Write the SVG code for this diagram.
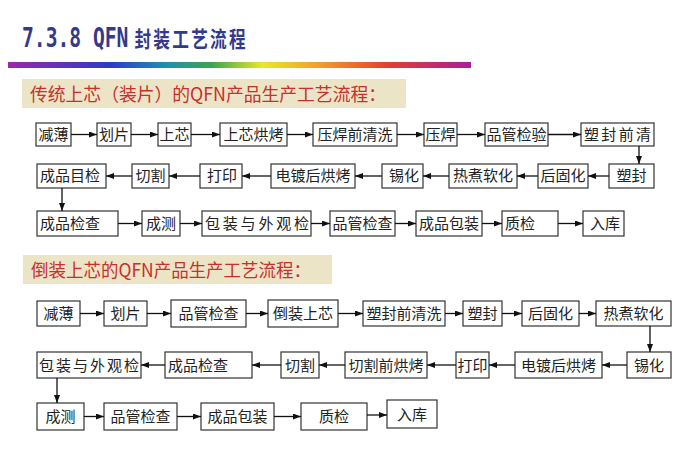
<svg xmlns="http://www.w3.org/2000/svg" width="679" height="459" viewBox="0 0 679 459">
<defs>
<linearGradient id="rainbow" x1="0" y1="0" x2="1" y2="0">
<stop offset="0" stop-color="#9a2aa6"/>
<stop offset="0.22" stop-color="#2b3cc4"/>
<stop offset="0.34" stop-color="#1f8fb0"/>
<stop offset="0.44" stop-color="#3aa64a"/>
<stop offset="0.55" stop-color="#e8e82a"/>
<stop offset="0.68" stop-color="#f09a2a"/>
<stop offset="0.82" stop-color="#e0402e"/>
<stop offset="1" stop-color="#a8209a"/>
</linearGradient>
<marker id="ah" viewBox="0 0 8 6" refX="8" refY="3" markerWidth="8" markerHeight="6" markerUnits="userSpaceOnUse" orient="auto">
<path d="M0,0 L8,3 L0,6 z" fill="#111"/>
</marker>
</defs>
<style>
.box{fill:#fff;stroke:#333;stroke-width:1.2}
.t{font-family:"Noto Sans CJK SC","Noto Sans",sans-serif;font-size:15px;fill:#222;text-anchor:middle}
.ts{font-family:"Noto Sans CJK SC","Noto Sans",sans-serif;font-size:15px;fill:#222;text-anchor:start}
.lbl{fill:#ece4c6}
.lt{font-family:"Noto Sans CJK SC","Liberation Serif",sans-serif;font-size:18px;fill:#c8302c}
.c{stroke:#111;stroke-width:1.3;fill:none;marker-end:url(#ah)}
</style>
<rect width="679" height="459" fill="#fff"/>
<g id="title">
<text transform="translate(22,47) scale(0.756,1)" x="0" y="0" fill="#34398a" font-weight="bold"><tspan font-family="DejaVu Sans Mono,monospace" font-size="26">7.3.8 QFN</tspan><tspan dx="8" font-family="Noto Sans CJK SC,sans-serif" font-size="22" letter-spacing="3">封装工艺流程</tspan></text>
</g>
<rect x="8" y="62" width="463" height="6" fill="url(#rainbow)"/>
<g id="label1">
<rect class="lbl" x="22" y="79" width="384" height="29"/>
<text class="lt" x="30" y="101" textLength="356" lengthAdjust="spacingAndGlyphs">传统上芯（装片）的QFN产品生产工艺流程：</text>
</g>
<g id="label2">
<rect class="lbl" x="23" y="255" width="309" height="29"/>
<text class="lt" x="31" y="277" textLength="280" lengthAdjust="spacingAndGlyphs">倒装上芯的QFN产品生产工艺流程：</text>
</g>
<g id="n1"><rect class="box" x="36" y="123" width="35" height="23"/><text class="t" x="53.5" y="140">减薄</text></g>
<g id="n2"><rect class="box" x="97" y="123" width="34" height="23"/><text class="t" x="114" y="140">划片</text></g>
<g id="n3"><rect class="box" x="158" y="123" width="33" height="23"/><text class="t" x="174.5" y="140">上芯</text></g>
<g id="n4"><rect class="box" x="220" y="123" width="67" height="23"/><text class="t" x="253.5" y="140">上芯烘烤</text></g>
<g id="n5"><rect class="box" x="313" y="123" width="84" height="23"/><text class="t" x="355" y="140">压焊前清洗</text></g>
<g id="n6"><rect class="box" x="424" y="123" width="33" height="23"/><text class="t" x="440.5" y="140">压焊</text></g>
<g id="n7"><rect class="box" x="485" y="123" width="63" height="23"/><text class="t" x="516.5" y="140">品管检验</text></g>
<g id="n8"><rect class="box" x="581" y="123" width="73" height="23"/><text class="ts" x="584" y="140" textLength="67">塑封前清</text></g>
<g id="n9"><rect class="box" x="609" y="164" width="45" height="24"/><text class="t" x="631.5" y="181">塑封</text></g>
<g id="n10"><rect class="box" x="538" y="164" width="50" height="24"/><text class="t" x="563" y="181">后固化</text></g>
<g id="n11"><rect class="box" x="449" y="164" width="68" height="24"/><text class="t" x="483" y="181">热煮软化</text></g>
<g id="n12"><rect class="box" x="382" y="164" width="41" height="24"/><text class="t" x="404" y="181">锡化</text></g>
<g id="n13"><rect class="box" x="271" y="164" width="84" height="24"/><text class="t" x="313" y="181">电镀后烘烤</text></g>
<g id="n14"><rect class="box" x="200" y="164" width="42" height="24"/><text class="t" x="222" y="181">打印</text></g>
<g id="n15"><rect class="box" x="132" y="164" width="37" height="24"/><text class="t" x="150.5" y="181">切割</text></g>
<g id="n16"><rect class="box" x="37" y="164" width="69" height="24"/><text class="ts" x="40" y="181">成品目检</text></g>
<g id="n17"><rect class="box" x="37" y="211" width="81" height="25"/><text class="ts" x="40" y="229">成品检查</text></g>
<g id="n18"><rect class="box" x="142" y="211" width="38" height="25"/><text class="t" x="161" y="229">成测</text></g>
<g id="n19"><rect class="box" x="202" y="211" width="109" height="25"/><text class="ts" x="205" y="229" textLength="104">包装与外观检</text></g>
<g id="n20"><rect class="box" x="330" y="211" width="65" height="25"/><text class="t" x="362.5" y="229">品管检查</text></g>
<g id="n21"><rect class="box" x="416" y="211" width="66" height="25"/><text class="t" x="449" y="229">成品包装</text></g>
<g id="n22"><rect class="box" x="502" y="211" width="56" height="25"/><text class="ts" x="505" y="229">质检</text></g>
<g id="n23"><rect class="box" x="583" y="211" width="41" height="25"/><text class="t" x="605" y="229">入库</text></g>
<g id="m1"><rect class="box" x="37" y="301" width="43" height="25"/><text class="t" x="58.5" y="319">减薄</text></g>
<g id="m2"><rect class="box" x="104" y="301" width="43" height="25"/><text class="t" x="125.5" y="319">划片</text></g>
<g id="m3"><rect class="box" x="171" y="300" width="75" height="27"/><text class="t" x="208.5" y="319">品管检查</text></g>
<g id="m4"><rect class="box" x="268" y="300" width="70" height="27"/><text class="t" x="303" y="319">倒装上芯</text></g>
<g id="m5"><rect class="box" x="363" y="301" width="82" height="25"/><text class="t" x="404" y="319">塑封前清洗</text></g>
<g id="m6"><rect class="box" x="463" y="301" width="39" height="25"/><text class="t" x="482.5" y="319">塑封</text></g>
<g id="m7"><rect class="box" x="522" y="301" width="57" height="25"/><text class="t" x="550.5" y="319">后固化</text></g>
<g id="m8"><rect class="box" x="596" y="301" width="75" height="25"/><text class="t" x="633.5" y="319">热煮软化</text></g>
<g id="m9"><rect class="box" x="627" y="352" width="44" height="26"/><text class="t" x="649" y="370.5">锡化</text></g>
<g id="m10"><rect class="box" x="515" y="352" width="87" height="26"/><text class="t" x="558.5" y="370.5">电镀后烘烤</text></g>
<g id="m11"><rect class="box" x="456" y="352" width="33" height="26"/><text class="t" x="472.5" y="370.5">打印</text></g>
<g id="m12"><rect class="box" x="345" y="352" width="82" height="26"/><text class="t" x="386" y="370.5">切割前烘烤</text></g>
<g id="m13"><rect class="box" x="281" y="352" width="38" height="26"/><text class="t" x="300" y="370.5">切割</text></g>
<g id="m14"><rect class="box" x="165" y="352" width="87" height="26"/><text class="ts" x="168" y="370.5">成品检查</text></g>
<g id="m15"><rect class="box" x="37" y="352" width="104" height="26"/><text class="ts" x="39" y="370.5" textLength="100">包装与外观检</text></g>
<g id="m16"><rect class="box" x="37" y="403" width="47" height="27"/><text class="t" x="60.5" y="422">成测</text></g>
<g id="m17"><rect class="box" x="104" y="403" width="73" height="27"/><text class="t" x="140.5" y="422">品管检查</text></g>
<g id="m18"><rect class="box" x="201" y="403" width="73" height="27"/><text class="t" x="237.5" y="422">成品包装</text></g>
<g id="m19"><rect class="box" x="301" y="403" width="66" height="27"/><text class="t" x="334" y="422">质检</text></g>
<g id="m20"><rect class="box" x="387" y="400" width="50" height="28"/><text class="t" x="412" y="419.5">入库</text></g>
<g id="connectors">
<line class="c" x1="71" y1="134.5" x2="97" y2="134.5"/>
<line class="c" x1="131" y1="134.5" x2="158" y2="134.5"/>
<line class="c" x1="191" y1="134.5" x2="220" y2="134.5"/>
<line class="c" x1="287" y1="134.5" x2="313" y2="134.5"/>
<line class="c" x1="397" y1="134.5" x2="424" y2="134.5"/>
<line class="c" x1="457" y1="134.5" x2="485" y2="134.5"/>
<line class="c" x1="548" y1="134.5" x2="581" y2="134.5"/>
<line class="c" x1="639" y1="146" x2="639" y2="164"/>
<line class="c" x1="609" y1="176" x2="588" y2="176"/>
<line class="c" x1="538" y1="176" x2="517" y2="176"/>
<line class="c" x1="449" y1="176" x2="423" y2="176"/>
<line class="c" x1="382" y1="176" x2="355" y2="176"/>
<line class="c" x1="271" y1="176" x2="242" y2="176"/>
<line class="c" x1="200" y1="176" x2="169" y2="176"/>
<line class="c" x1="132" y1="176" x2="106" y2="176"/>
<line class="c" x1="62" y1="188" x2="62" y2="211"/>
<line class="c" x1="118" y1="223.5" x2="142" y2="223.5"/>
<line class="c" x1="180" y1="223.5" x2="202" y2="223.5"/>
<line class="c" x1="311" y1="223.5" x2="330" y2="223.5"/>
<line class="c" x1="395" y1="223.5" x2="416" y2="223.5"/>
<line class="c" x1="482" y1="223.5" x2="502" y2="223.5"/>
<line class="c" x1="558" y1="223.5" x2="583" y2="223.5"/>
<line class="c" x1="80" y1="313.5" x2="104" y2="313.5"/>
<line class="c" x1="147" y1="313.5" x2="171" y2="313.5"/>
<line class="c" x1="246" y1="313.5" x2="268" y2="313.5"/>
<line class="c" x1="338" y1="313.5" x2="363" y2="313.5"/>
<line class="c" x1="445" y1="313.5" x2="463" y2="313.5"/>
<line class="c" x1="502" y1="313.5" x2="522" y2="313.5"/>
<line class="c" x1="579" y1="313.5" x2="596" y2="313.5"/>
<line class="c" x1="650" y1="326" x2="650" y2="352"/>
<line class="c" x1="627" y1="365" x2="602" y2="365"/>
<line class="c" x1="515" y1="365" x2="489" y2="365"/>
<line class="c" x1="456" y1="365" x2="427" y2="365"/>
<line class="c" x1="345" y1="365" x2="319" y2="365"/>
<line class="c" x1="281" y1="365" x2="252" y2="365"/>
<line class="c" x1="165" y1="365" x2="141" y2="365"/>
<line class="c" x1="57" y1="378" x2="57" y2="403"/>
<line class="c" x1="84" y1="416.5" x2="104" y2="416.5"/>
<line class="c" x1="177" y1="416.5" x2="201" y2="416.5"/>
<line class="c" x1="274" y1="416.5" x2="301" y2="416.5"/>
<line class="c" x1="367" y1="415" x2="387" y2="415"/>
</g>
</svg>
